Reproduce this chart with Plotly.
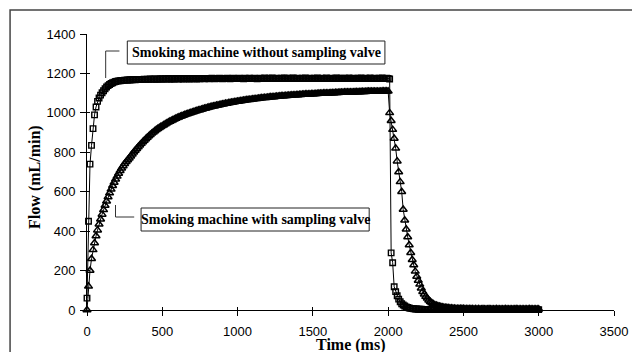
import plotly.graph_objects as go

# ---------------- data ----------------
time_ms = list(range(0, 3001, 10))  # sampling grid, 10 ms

flow_without_valve = [
    60, 450, 740, 835, 920, 990, 1030, 1058, 1075, 1090,
    1102, 1112, 1122, 1131, 1138, 1144, 1149, 1153, 1156, 1159,
    1161, 1162, 1163, 1164, 1165, 1166, 1166, 1167, 1167, 1168,
    1168, 1169, 1168, 1169, 1170, 1169, 1170, 1170, 1171, 1170,
    1171, 1170, 1172, 1171, 1171, 1172, 1170, 1172, 1171, 1173,
    1172, 1171, 1173, 1172, 1174, 1171, 1172, 1173, 1172, 1174,
    1173, 1172, 1174, 1173, 1172, 1175, 1173, 1174, 1172, 1173,
    1174, 1173, 1175, 1172, 1174, 1173, 1175, 1174, 1173, 1174,
    1175, 1173, 1174, 1176, 1174, 1173, 1175, 1174, 1176, 1174,
    1173, 1175, 1174, 1176, 1175, 1173, 1174, 1176, 1175, 1174,
    1175, 1176, 1174, 1175, 1173, 1176, 1175, 1174, 1176, 1175,
    1174, 1176, 1175, 1173, 1175, 1176, 1174, 1175, 1177, 1175,
    1174, 1176, 1175, 1177, 1175, 1174, 1176, 1175, 1174, 1176,
    1175, 1177, 1174, 1176, 1175, 1174, 1176, 1177, 1175, 1174,
    1176, 1175, 1174, 1176, 1175, 1177, 1175, 1174, 1176, 1175,
    1174, 1176, 1175, 1177, 1174, 1175, 1176, 1174, 1175, 1177,
    1175, 1174, 1176, 1175, 1174, 1176, 1177, 1175, 1174, 1176,
    1175, 1176, 1174, 1175, 1177, 1175, 1174, 1176, 1175, 1174,
    1176, 1175, 1177, 1174, 1175, 1176, 1174, 1175, 1177, 1175,
    1174, 1176, 1175, 1174, 1176, 1175, 1177, 1175, 1174, 1176,
    1175, 1172, 290, 240, 118, 93, 72, 55, 42, 32,
    25, 20, 16, 13, 10, 8, 7, 6, 5, 5,
    4, 4, 4, 3, 3, 3, 3, 3, 3, 3,
    3, 2, 3, 3, 2, 3, 2, 3, 3, 2,
    3, 2, 2, 3, 2, 3, 2, 2, 3, 2,
    2, 3, 2, 2, 3, 2, 2, 3, 2, 2,
    3, 2, 2, 2, 3, 2, 2, 3, 2, 2,
    2, 3, 2, 2, 2, 3, 2, 2, 2, 3,
    2, 2, 2, 3, 2, 2, 2, 2, 3, 2,
    2, 2, 3, 2, 2, 2, 2, 3, 2, 2,
    2,
]

flow_with_valve = [
    0, 120, 200, 260, 305, 340, 375, 405, 435, 460,
    485, 508, 530, 552, 573, 593, 612, 630, 647, 663,
    678, 692, 706, 719, 731, 742, 752, 761, 770, 780,
    790, 800, 809, 818, 827, 836, 844, 852, 860, 867,
    875, 882, 889, 896, 902, 908, 914, 919, 924, 929,
    934, 939, 943, 948, 952, 956, 960, 964, 968, 971,
    975, 978, 981, 984, 987, 990, 993, 995, 998, 1001,
    1003, 1006, 1008, 1011, 1013, 1015, 1017, 1020, 1022, 1024,
    1026, 1028, 1030, 1032, 1033, 1035, 1037, 1039, 1040, 1042,
    1044, 1045, 1047, 1048, 1050, 1051, 1053, 1054, 1055, 1057,
    1058, 1059, 1060, 1062, 1063, 1064, 1065, 1066, 1067, 1068,
    1069, 1070, 1071, 1072, 1073, 1074, 1075, 1076, 1077, 1077,
    1078, 1079, 1080, 1081, 1081, 1082, 1083, 1083, 1084, 1085,
    1085, 1086, 1087, 1087, 1088, 1088, 1089, 1090, 1090, 1091,
    1091, 1092, 1092, 1093, 1093, 1094, 1094, 1095, 1095, 1096,
    1096, 1096, 1097, 1097, 1098, 1098, 1098, 1099, 1099, 1100,
    1100, 1100, 1101, 1101, 1101, 1102, 1102, 1102, 1103, 1103,
    1103, 1104, 1104, 1104, 1104, 1105, 1105, 1105, 1106, 1106,
    1106, 1106, 1107, 1107, 1107, 1107, 1108, 1108, 1108, 1108,
    1108, 1109, 1109, 1109, 1109, 1109, 1110, 1110, 1110, 1110,
    1110, 1000, 960, 915, 870, 820, 755, 700, 650, 600,
    510, 455, 410, 370, 330, 290, 255, 228, 196, 170,
    150, 130, 110, 93, 80, 68, 59, 50, 42, 36,
    30, 26, 23, 20, 18, 16, 14, 13, 12, 11,
    10, 9, 9, 8, 8, 7, 7, 7, 6, 6,
    6, 5, 5, 5, 5, 5, 5, 4, 5, 4,
    5, 4, 4, 5, 4, 4, 4, 5, 4, 4,
    4, 4, 5, 4, 4, 4, 4, 4, 5, 4,
    4, 4, 4, 4, 4, 5, 4, 4, 4, 4,
    4, 4, 4, 4, 5, 4, 4, 4, 4, 4,
    4,
]

x_ticks = [0, 500, 1000, 1500, 2000, 2500, 3000, 3500]
y_ticks = [0, 200, 400, 600, 800, 1000, 1200, 1400]
x_title = "Time (ms)"
y_title = "Flow (mL/min)"
label_without = "Smoking machine without sampling valve"
label_with = "Smoking machine with sampling valve"

assert len(flow_without_valve) == len(time_ms), len(flow_without_valve)
assert len(flow_with_valve) == len(time_ms), len(flow_with_valve)

# ---------------- layout geometry ----------------
# The page body has an 8 px margin, so the figure starts at (8, 8) in the
# window; all reference pixel positions are converted to figure pixels.
OFF = 8
W, H = 640 - OFF, 352 - OFF
L, R, T, B = 87 - OFF, 623 - OFF, 34 - OFF, 310 - OFF


def px(x):
    return (x - OFF - L) / (R - L)


def py(y):
    return (B - (y - OFF)) / (B - T)


SERIF = "Liberation Serif"
SANS = "Liberation Sans"

fig = go.Figure()

fig.add_trace(go.Scatter(
    x=time_ms, y=flow_with_valve, mode="lines+markers",
    line=dict(color="black", width=1),
    marker=dict(symbol="triangle-up-open", size=7, color="black",
                line=dict(color="black", width=1.5)),
    cliponaxis=False, showlegend=False,
))
fig.add_trace(go.Scatter(
    x=time_ms, y=flow_without_valve, mode="lines+markers",
    line=dict(color="black", width=1),
    marker=dict(symbol="square-open", size=5.5, color="black",
                line=dict(color="black", width=1.4)),
    cliponaxis=False, showlegend=False,
))
# empty trace to instantiate the overlay axes (inner half of crossing ticks)
fig.add_trace(go.Scatter(x=[], y=[], xaxis="x2", yaxis="y2", showlegend=False))

axis_common = dict(showgrid=False, zeroline=False, tickcolor="black", tickwidth=1)

fig.update_layout(
    width=W, height=H, autosize=False,
    margin=dict(l=L, r=W - R, t=T, b=H - B, pad=0),
    paper_bgcolor="white", plot_bgcolor="white",
    xaxis=dict(range=[0, 3500], tickvals=x_ticks, ticks="outside", ticklen=5,
               showline=True, linecolor="black", linewidth=1,
               tickfont=dict(family=SANS, size=13, color="black"),
               ticklabelstandoff=4, **axis_common),
    yaxis=dict(range=[0, 1400], tickvals=y_ticks, ticks="outside", ticklen=6,
               showline=True, linecolor="black", linewidth=1,
               tickfont=dict(family=SANS, size=13, color="black"),
               ticklabelstandoff=2, **axis_common),
    xaxis2=dict(range=[0, 3500], tickvals=x_ticks, ticks="inside", ticklen=3,
                overlaying="x", anchor="y", side="bottom",
                showticklabels=False, showline=False, **axis_common),
    yaxis2=dict(range=[0, 1400], tickvals=y_ticks, ticks="inside", ticklen=3,
                overlaying="y", anchor="x", side="left",
                showticklabels=False, showline=False, **axis_common),
)

shapes = [
    # outer frame
    dict(type="rect", xref="paper", yref="paper",
         x0=px(8.75), x1=px(700), y0=py(400), y1=py(10),
         line=dict(color="#444444", width=1.5), fillcolor="rgba(0,0,0,0)"),
    # label boxes
    dict(type="rect", xref="paper", yref="paper",
         x0=px(128), x1=px(390), y0=py(64), y1=py(41),
         line=dict(color="#222222", width=1), fillcolor="white"),
    dict(type="rect", xref="paper", yref="paper",
         x0=px(142), x1=px(374), y0=py(231), y1=py(208),
         line=dict(color="#222222", width=1), fillcolor="white"),
    # leader brackets
    dict(type="path", xref="paper", yref="paper",
         path=f"M {px(106)},{py(78)} L {px(106)},{py(51)} L {px(120)},{py(51)}",
         line=dict(color="#333333", width=1)),
    dict(type="path", xref="paper", yref="paper",
         path=f"M {px(116)},{py(205)} L {px(116)},{py(217)} L {px(135)},{py(217)}",
         line=dict(color="#333333", width=1)),
]
fig.update_layout(shapes=shapes)

label_font = dict(family=SERIF, size=14, color="black", weight="bold")
title_font = dict(family=SERIF, size=16, color="black", weight="bold")
annotations = [
    dict(text=label_without, xref="paper", yref="paper",
         x=px(259), y=py(52.5), xanchor="center", yanchor="middle",
         showarrow=False, font=label_font),
    dict(text=label_with, xref="paper", yref="paper",
         x=px(258), y=py(219.5), xanchor="center", yanchor="middle",
         showarrow=False, font=label_font),
    dict(text=x_title, xref="paper", yref="paper",
         x=px(355), y=py(345), xanchor="center", yanchor="middle",
         showarrow=False, font=title_font),
    dict(text=y_title, xref="paper", yref="paper",
         x=px(34), y=py(177), xanchor="center", yanchor="middle",
         textangle=-90, showarrow=False, font=title_font),
]
fig.update_layout(annotations=annotations)

fig.write_html("out.html")
